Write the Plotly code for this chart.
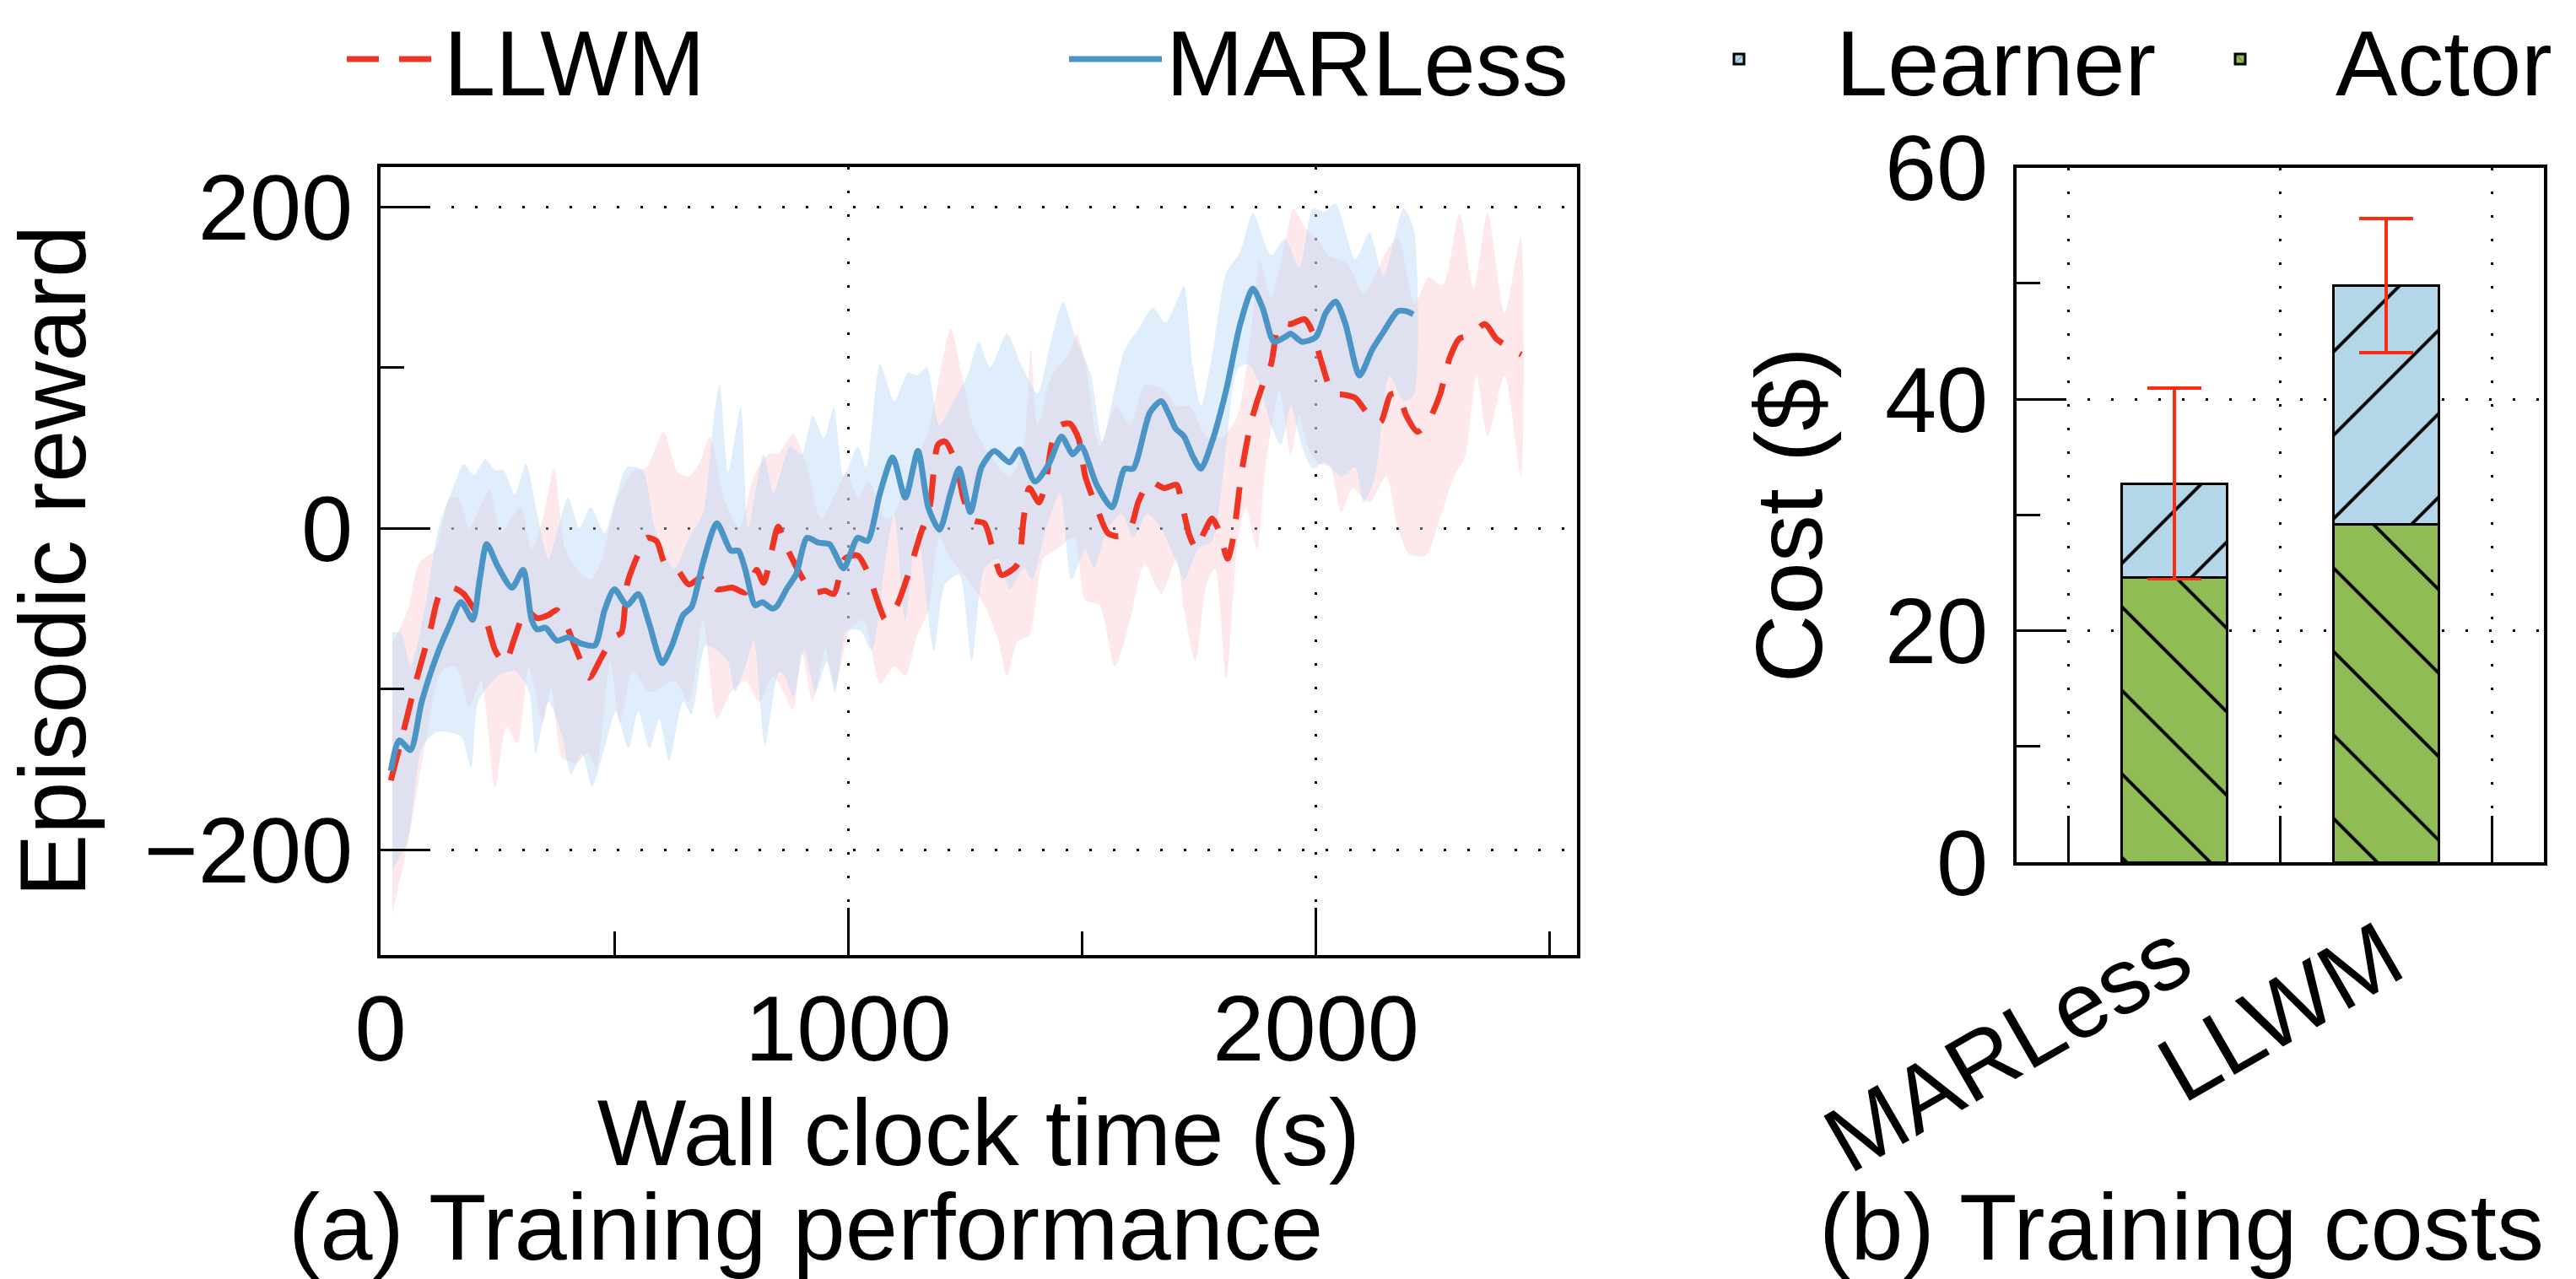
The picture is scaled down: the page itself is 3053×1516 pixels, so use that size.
import plotly.graph_objects as go

W, H = 3053, 1516
FONT = "Liberation Sans, Arial, Helvetica, sans-serif"

# ---------------- (a) Training performance ----------------
marless_time = [22, 40, 64, 88, 118, 148, 172, 197, 212, 227, 251, 281, 305, 323, 335, 353, 377, 401, 431, 458,
                479, 500, 527, 551, 575, 602, 623, 647, 665, 689, 719, 749, 765, 780, 801, 816, 837, 846, 870, 888,
                912, 936, 960, 990, 1020, 1041, 1068, 1095, 1122, 1149, 1171, 1195, 1219, 1237, 1261, 1285, 1312, 1345, 1366, 1399,
                1429, 1456, 1480, 1498, 1531, 1564, 1591, 1609, 1645, 1669, 1687, 1700, 1718, 1736, 1754, 1778, 1808, 1838, 1865, 1886,
                1910, 1934, 1946, 1970, 2000, 2021, 2042, 2063, 2093, 2120, 2144, 2175, 2193, 2208]
marless_reward = [-151, -132, -138, -108, -81, -60, -46, -57, -32, -10, -24, -37, -26, -57, -63, -62, -70, -68, -72, -73,
                  -51, -38, -48, -41, -60, -84, -73, -54, -49, -22, 3, -14, -14, -26, -48, -46, -50, -49, -37, -29,
                  -6, -9, -10, -25, -6, -8, 22, 44, 19, 48, 13, -1, 22, 37, 10, 38, 48, 41, 49, 29,
                  40, 57, 46, 51, 27, 13, 37, 37, 72, 79, 70, 62, 57, 45, 37, 54, 86, 127, 149, 137,
                  116, 119, 121, 116, 119, 134, 141, 127, 95, 111, 122, 135, 135, 133]

llwm_time = [22, 46, 76, 106, 127, 154, 178, 202, 223, 245, 266, 287, 311, 335, 359, 377, 398, 419, 446, 473,
             497, 515, 527, 551, 569, 590, 608, 635, 659, 695, 719, 752, 780, 804, 819, 837, 850, 870, 900, 924,
             951, 969, 993, 1020, 1044, 1062, 1080, 1104, 1128, 1153, 1174, 1192, 1207, 1231, 1246, 1267, 1291, 1309, 1327, 1345,
             1363, 1375, 1387, 1408, 1423, 1435, 1453, 1474, 1492, 1507, 1531, 1555, 1579, 1603, 1621, 1645, 1675, 1702, 1712, 1730,
             1745, 1760, 1778, 1793, 1811, 1823, 1841, 1862, 1886, 1904, 1922, 1946, 1976, 1994, 2012, 2036, 2060, 2084, 2114, 2138,
             2159, 2175, 2193, 2217, 2241, 2265, 2286, 2307, 2331, 2361, 2385, 2409, 2439]
llwm_reward = [-157, -130, -95, -64, -41, -37, -41, -51, -56, -76, -84, -68, -51, -56, -54, -51, -61, -76, -93, -80,
               -68, -65, -35, -16, -6, -8, -22, -26, -35, -29, -38, -37, -40, -26, -34, -13, 1, -13, -30, -40,
               -39, -41, -19, -17, -29, -45, -57, -48, -29, -5, 13, 52, 54, 40, 19, 5, 3, -13, -29, -27,
               -22, 6, 25, 16, 30, 52, 64, 65, 56, 32, 13, -3, -5, 0, 17, 29, 25, 27, 17, -5,
               -13, -3, 6, -2, -19, -6, 35, 67, 89, 102, 127, 127, 130, 121, 103, 84, 83, 81, 70, 66,
               83, 84, 70, 60, 67, 83, 106, 118, 120, 127, 118, 113, 108]

marless_upper_time = [25, 43, 64, 94, 124, 155, 178, 200, 224, 245, 263, 287, 311, 335, 359, 401, 425, 449, 479, 503,
                      527, 560, 584, 605, 629, 659, 689, 713, 725, 743, 770, 786, 819, 840, 876, 900, 924, 948, 969, 990,
                      1020, 1038, 1068, 1098, 1128, 1147, 1168, 1195, 1225, 1255, 1279, 1303, 1339, 1369, 1405, 1429, 1459, 1483, 1519, 1543,
                      1567, 1591, 1621, 1651, 1678, 1702, 1718, 1736, 1754, 1778, 1808, 1838, 1865, 1904, 1934, 1964, 1994, 2018, 2042, 2084,
                      2114, 2144, 2187, 2209]
marless_upper = [-65, -65, -86, -51, 0, 25, 40, 33, 43, 36, 36, 21, 40, 9, -19, 19, 0, 13, -3, 19,
                 38, 36, 3, -17, -25, -6, 9, 70, 89, 35, 75, 0, 46, 22, 51, 46, 70, 56, 75, 32,
                 51, 38, 102, 79, 97, 95, 100, 64, 79, 95, 116, 100, 121, 102, 84, 111, 141, 121, 95, 54,
                 83, 111, 124, 137, 128, 141, 151, 102, 76, 108, 159, 172, 196, 170, 180, 162, 199, 197, 202, 167,
                 184, 157, 199, 186]
marless_lower_time = [25, 58, 88, 118, 148, 173, 194, 209, 251, 287, 317, 332, 359, 389, 407, 431, 452, 479, 503, 530,
                      551, 575, 596, 617, 647, 665, 695, 719, 743, 758, 780, 798, 822, 852, 864, 882, 906, 930, 954, 972,
                      996, 1026, 1050, 1080, 1098, 1122, 1147, 1183, 1207, 1237, 1264, 1291, 1321, 1345, 1375, 1393, 1423, 1453, 1477, 1507,
                      1525, 1555, 1585, 1609, 1639, 1669, 1700, 1718, 1748, 1778, 1808, 1832, 1856, 1880, 1904, 1925, 1946, 1970, 1994, 2018,
                      2054, 2084, 2102, 2126, 2157, 2187, 2209]
marless_lower = [-213, -194, -137, -127, -127, -130, -149, -108, -92, -89, -101, -140, -108, -130, -153, -140, -161, -137, -114, -137,
                 -114, -137, -119, -145, -108, -116, -73, -76, -83, -102, -86, -70, -135, -89, -92, -105, -76, -102, -83, -102,
                 -64, -64, -76, -19, 9, -57, 0, -76, -35, -29, -83, -25, -19, -38, -25, -32, 0, 22, -32, -13,
                 -25, 0, 9, -6, 9, 0, -20, -32, -13, -8, 51, 99, 102, 89, 64, 52, 76, 51, 37, 41,
                 32, 38, 16, 32, 95, 79, 83]

llwm_upper_time = [25, 58, 82, 118, 148, 166, 190, 233, 257, 299, 323, 347, 371, 395, 419, 449, 473, 503, 539, 569,
                   605, 635, 659, 683, 704, 737, 767, 798, 828, 852, 882, 912, 942, 978, 996, 1020, 1044, 1080, 1098, 1128,
                   1171, 1195, 1219, 1243, 1267, 1303, 1345, 1375, 1390, 1405, 1435, 1471, 1489, 1507, 1537, 1573, 1603, 1633, 1675, 1702,
                   1730, 1766, 1802, 1832, 1862, 1880, 1904, 1934, 1952, 1976, 2000, 2030, 2066, 2102, 2150, 2175, 2211, 2241, 2271, 2307,
                   2337, 2367, 2403, 2438]
llwm_upper = [-72, -51, -22, -13, 19, 19, 0, 24, -3, 13, -13, 6, 37, -13, -25, -32, -19, 16, 35, 38,
              60, 35, 32, 41, 57, 16, 0, 32, 46, 47, 59, 38, 6, 25, 35, 19, 29, 6, 9, 32,
              60, 95, 124, 95, 64, 45, 32, 51, 111, 64, 95, 108, 121, 102, 51, 76, 64, 89, 86, 76,
              76, 57, 57, 70, 124, 167, 143, 178, 199, 187, 181, 169, 165, 146, 172, 181, 140, 156, 151, 196,
              149, 196, 134, 181]
llwm_lower_time = [25, 58, 94, 130, 160, 190, 215, 245, 269, 293, 317, 347, 365, 389, 419, 443, 461, 491, 512, 539,
                   575, 599, 629, 659, 689, 719, 749, 780, 810, 840, 882, 900, 924, 951, 972, 1002, 1032, 1068, 1098, 1122,
                   1147, 1171, 1195, 1219, 1255, 1291, 1321, 1339, 1363, 1387, 1417, 1447, 1483, 1507, 1537, 1570, 1603, 1633, 1669, 1702,
                   1718, 1742, 1766, 1784, 1808, 1832, 1850, 1874, 1892, 1922, 1946, 1964, 1982, 2006, 2030, 2054, 2078, 2114, 2150, 2175,
                   2199, 2235, 2265, 2295, 2319, 2343, 2367, 2403, 2438]
llwm_lower = [-240, -197, -137, -89, -86, -111, -95, -162, -124, -134, -86, -121, -99, -143, -146, -140, -149, -83, -121, -89,
              -102, -99, -95, -108, -57, -119, -102, -95, -108, -92, -113, -76, -108, -75, -99, -64, -57, -97, -86, -92,
              -67, -51, -6, -19, -32, -48, -70, -92, -70, -67, -19, -13, -6, -45, -48, -86, -57, -22, -41, -19,
              -51, -83, -35, -25, -94, -10, 13, -13, 38, 86, 45, 70, 51, 40, 38, 10, 25, 16, 32, 0,
              -16, -17, 6, 32, 45, 95, 57, 95, 32]

# ---------------- (b) Training costs ----------------
systems = ["MARLess", "LLWM"]
actor_cost = [24.6, 29.2]
learner_cost = [8.1, 20.6]
cost_error = [8.25, 5.8]

# ---------------- styling ----------------
RED = "#ee3524"
BLUE = "#4a94c6"
LEARNER = "#b3d6e8"
ACTOR = "#8fbc54"
ERR = "#ff2a10"
GRID = dict(showgrid=True, gridcolor="black", gridwidth=3, griddash="3px,25px")


def closed_band(up_t, up_v, lo_t, lo_v):
    return list(up_t) + list(lo_t)[::-1], list(up_v) + list(lo_v)[::-1]


fig = go.Figure()

bx, by = closed_band(llwm_upper_time, llwm_upper, llwm_lower_time, llwm_lower)
fig.add_trace(go.Scatter(x=bx, y=by, mode="lines", fill="toself", fillcolor="rgba(250,200,205,0.4)",
                         line=dict(width=0, shape="spline", smoothing=0.7), hoverinfo="skip",
                         showlegend=False, xaxis="x", yaxis="y"))
bx, by = closed_band(marless_upper_time, marless_upper, marless_lower_time, marless_lower)
fig.add_trace(go.Scatter(x=bx, y=by, mode="lines", fill="toself", fillcolor="rgba(178,212,248,0.4)",
                         line=dict(width=0, shape="spline", smoothing=0.7), hoverinfo="skip",
                         showlegend=False, xaxis="x", yaxis="y"))

fig.add_trace(go.Scatter(x=llwm_time, y=llwm_reward, mode="lines", name="LLWM",
                         line=dict(color=RED, width=7, dash="38px,24px", shape="spline", smoothing=0.7),
                         xaxis="x", yaxis="y", legend="legend"))
fig.add_trace(go.Scatter(x=marless_time, y=marless_reward, mode="lines", name="MARLess",
                         line=dict(color=BLUE, width=7, shape="spline", smoothing=0.7),
                         xaxis="x", yaxis="y", legend="legend2"))

fig.add_trace(go.Bar(x=systems, y=actor_cost, name="Actor", width=0.5,
                     marker=dict(color=ACTOR, line=dict(color="black", width=3),
                                 pattern=dict(shape="\\", fgcolor="black", fgopacity=1, bgcolor=ACTOR,
                                              size=70, solidity=0.055)),
                     xaxis="x2", yaxis="y2", legend="legend4"))
fig.add_trace(go.Bar(x=systems, y=learner_cost, name="Learner", width=0.5,
                     marker=dict(color=LEARNER, line=dict(color="black", width=3),
                                 pattern=dict(shape="/", fgcolor="black", fgopacity=1, bgcolor=LEARNER,
                                              size=70, solidity=0.055)),
                     error_y=dict(type="data", array=cost_error, symmetric=True, color=ERR, thickness=3.5, width=32),
                     xaxis="x2", yaxis="y2", legend="legend3"))

axis_common = dict(showline=True, linecolor="black", linewidth=3.5, mirror=True, zeroline=False, automargin=False,
                   ticks="inside", tickcolor="black", tickwidth=3, tickfont=dict(size=110, family=FONT, color="black"))

legend_common = dict(yanchor="middle", xanchor="left", orientation="h", font=dict(size=110),
                     bgcolor="rgba(0,0,0,0)", borderwidth=0)

fig.update_layout(
    width=W, height=H,
    margin=dict(l=0, r=0, t=0, b=0, autoexpand=False),
    paper_bgcolor="white", plot_bgcolor="white",
    font=dict(family=FONT, size=110, color="black"),
    barmode="stack",
    xaxis=dict(domain=[451 / W, 1869 / W], range=[0, 2558], anchor="y",
               tickmode="linear", tick0=0, dtick=1000, ticklen=56,
               minor=dict(tick0=0, dtick=500, ticks="inside", ticklen=28, tickwidth=3, tickcolor="black", showgrid=False),
               ticklabelstandoff=-11,
               title=dict(text="Wall clock time (s)", font=dict(size=112), standoff=4),
               **GRID, **axis_common),
    yaxis=dict(domain=[1 - 1132 / H, 1 - 198 / H], range=[-265.6, 224.7], anchor="x",
               tickmode="linear", tick0=0, dtick=200, ticklen=56,
               minor=dict(tick0=0, dtick=100, ticks="inside", ticklen=28, tickwidth=3, tickcolor="black", showgrid=False),
               ticklabelstandoff=7,
               title=dict(text="Episodic reward", font=dict(size=112), standoff=32),
               **GRID, **axis_common),
    xaxis2=dict(domain=[2390 / W, 3015 / W], range=[-0.745, 1.746], anchor="y2", type="category",
                tickson="boundaries", ticklen=55, tickangle=-30, ticklabelstandoff=4,
                **GRID, **axis_common),
    yaxis2=dict(domain=[1 - 1022 / H, 1 - 198.6 / H], range=[0, 60], anchor="x2",
                tickmode="linear", tick0=0, dtick=20, ticklen=56,
                minor=dict(tick0=0, dtick=10, ticks="inside", ticklen=28, tickwidth=3, tickcolor="black", showgrid=False),
                ticklabelstandoff=8,
                title=dict(text="Cost ($)", font=dict(size=112), standoff=38),
                **GRID, **axis_common),
    legend=dict(x=406 / W, y=1 - 70 / H, itemwidth=110, **legend_common),
    legend2=dict(x=1262 / W, y=1 - 70 / H, itemwidth=110, **legend_common),
    legend3=dict(x=1946 / W, y=1 - 70 / H, itemwidth=220, **legend_common),
    legend4=dict(x=2542 / W, y=1 - 70 / H, itemwidth=216, **legend_common),
    annotations=[
        dict(text="(a) Training performance", x=955 / W, y=1 - 1454 / H, xref="paper", yref="paper",
             xanchor="center", yanchor="middle", showarrow=False, font=dict(size=112)),
        dict(text="(b) Training costs", x=2585 / W, y=1 - 1454 / H, xref="paper", yref="paper",
             xanchor="center", yanchor="middle", showarrow=False, font=dict(size=112)),
    ],
)

fig.write_html("out.html")
